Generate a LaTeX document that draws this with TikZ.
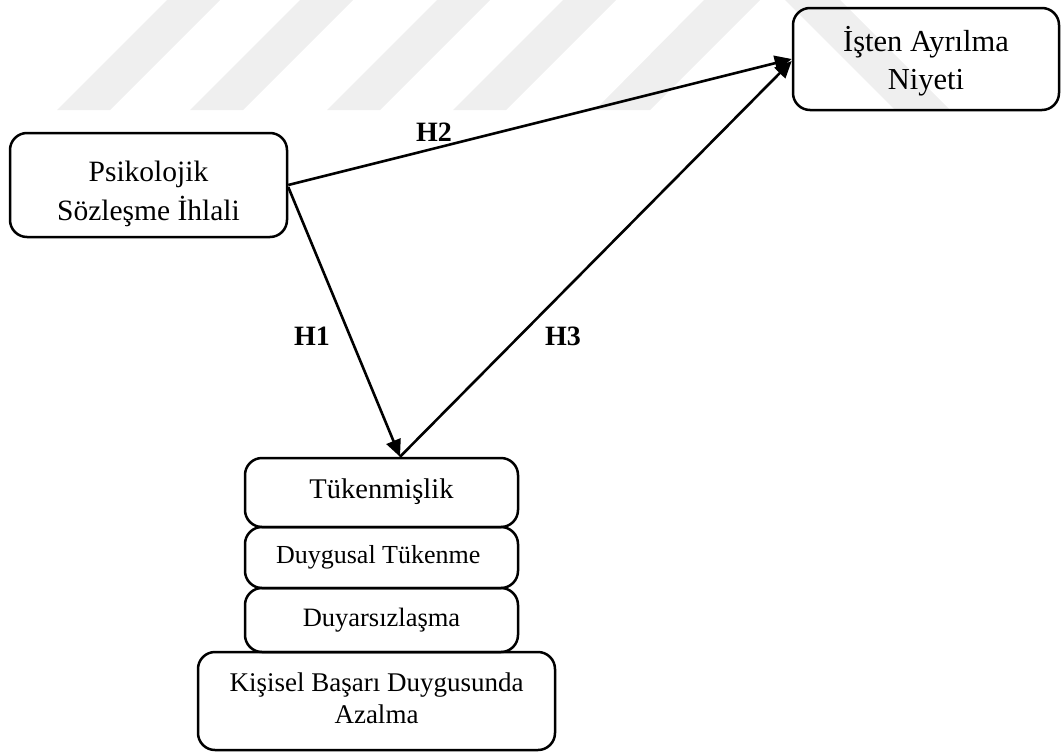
\documentclass[tikz,border=0pt]{standalone}
\usepackage{fontspec}
\setmainfont{Liberation Serif}
\usetikzlibrary{arrows.meta}
\definecolor{wm}{RGB}{239,239,239}
\begin{document}
\begin{tikzpicture}[x=1pt,y=-1pt,
  box/.style={draw, line width=2.5pt, rounded corners=17pt, align=center, inner sep=0pt},
  link/.style={line width=2.6pt, -{Triangle[length=17pt,width=15pt]}},
  hyp/.style={font=\fontsize{28}{30}\selectfont\bfseries}]
\useasboundingbox (0,0) rectangle (1061,753);
% faint background stripes
\foreach \x in {167,300,437,563}
  \fill[wm] (\x,0) -- ++(53,0) -- ++(-110,110) -- ++(-53,0) -- cycle;
\fill[wm] (704,0) -- (760,0) -- (650,110) -- (595,110) -- cycle;
\fill[wm] (785,0) -- (840,0) -- (950,110) -- (895,110) -- cycle;

% boxes
\node[box, font=\fontsize{29.5}{39}\selectfont, minimum width=277pt, minimum height=104pt] (psk) at (148.5,185)
  {\rule{0pt}{42.7pt}Psikolojik\\\strut Sözleşme İhlali};
\node[box, font=\fontsize{30.5}{38}\selectfont, minimum width=266pt, minimum height=102pt] (niy) at (926,59)
  {\rule{0pt}{33.8pt}İşten Ayrılma\\\strut Niyeti};
\node[box, font=\fontsize{28.5}{32}\selectfont, minimum width=273pt, minimum height=69pt] (tuk) at (381.5,492.5)
  {\strut Tükenmişlik};
\node[box, font=\fontsize{26}{31}\selectfont, minimum width=273pt, minimum height=61pt] (dt) at (381.5,557.5)
  {\strut Duygusal Tükenme\ };
\node[box, font=\fontsize{26.5}{31}\selectfont, minimum width=273pt, minimum height=64pt] (dys) at (381.5,620)
  {\strut Duyarsızlaşma};
\node[box, font=\fontsize{27}{31.7}\selectfont, minimum width=357pt, minimum height=98pt] (kb) at (376.5,701)
  {\strut Kişisel Başarı Duygusunda\\\strut Azalma};

% hypotheses
\draw[link] (psk.east) -- (niy.west);
\draw[link] ([yshift=-2pt]psk.east) -- ([xshift=18.5pt]tuk.north);
\draw[link] ([xshift=18.5pt]tuk.north) -- ([yshift=-2pt]niy.west);

\node[hyp] (h2) at (434,132) {H2};
\node[hyp] (h1) at (312,336) {H1};
\node[hyp] (h3) at (563,336) {H3};
\end{tikzpicture}
\end{document}
